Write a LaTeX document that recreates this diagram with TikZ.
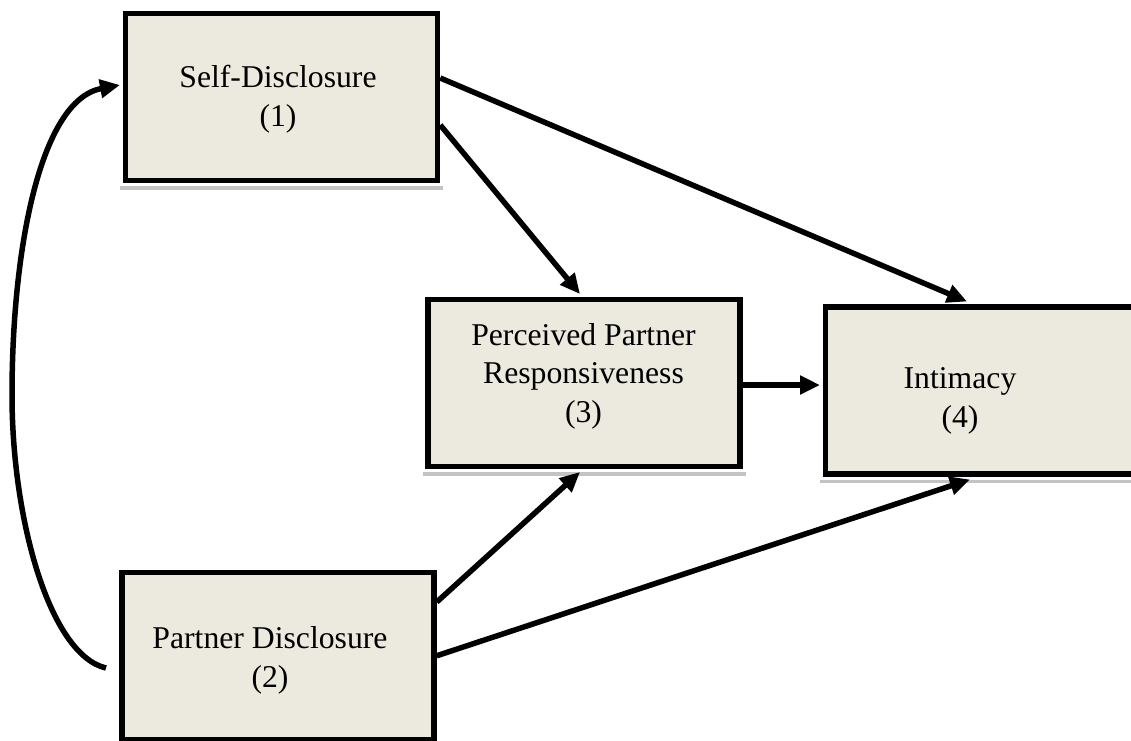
\documentclass[tikz,border=0pt]{standalone}
\usepackage{fontspec}
\setmainfont{Liberation Serif}
\usetikzlibrary{arrows.meta}
\definecolor{boxfill}{RGB}{236,233,223}
\definecolor{boxshade}{RGB}{195,195,195}
\begin{document}
\begin{tikzpicture}[x=1pt,y=-1pt,
  box/.style={draw=black, line width=5.5pt, fill=boxfill, inner sep=0pt,
              minimum width=312pt, minimum height=167pt},
  lbl/.style={align=center, inner sep=0pt,
              font=\fontsize{31.7}{38.5}\selectfont},
  conn/.style={line width=5.5pt, -{Triangle[length=20pt,width=18pt]}},
  shadestrip/.style={fill=boxshade}]
  \fill[white] (0,0) rectangle (1131,740);
  \useasboundingbox (0,0) rectangle (1131,740);

  % boxes
  \node[box] (n1) at (281.5,97) {};
  \node[box] (n3) at (584,383) {};
  \node[box, minimum width=315pt] (n4) at (983,390.5) {};
  \node[box] (n2) at (278,655.75) {};

  % thin shadows under the boxes
  \foreach \b in {n1,n3,n4}{
    \fill[shadestrip] ([xshift=-2.75pt,yshift=-2.75pt]\b.south west)
      rectangle ([xshift=2.75pt,yshift=-6.5pt]\b.south east);
  }

  % labels
  \node[lbl] (t1) at (278,99) {Self-Disclosure\\(1)};
  \node[lbl] (t3) at (583.5,376) {Perceived Partner\\Responsiveness\\(3)};
  \node[lbl] (t4) at (960,401) {Intimacy\\(4)};
  \node[lbl] (t2) at (270,660.5) {Partner Disclosure\\(2)};

  % paths
  \draw[conn] ([yshift=19pt]n1.east) -- ([xshift=-16pt,yshift=2.75pt]n4.north);
  \draw[conn] ([yshift=-28pt]n1.east) -- ([xshift=-4pt,yshift=2.75pt]n3.north);
  \draw[conn] ([yshift=-2pt]n3.east) -- ([xshift=-2.75pt,yshift=-2pt]n4.west |- n3.east);
  \draw[conn] ([yshift=53.75pt]n2.east) -- ([xshift=-4pt,yshift=-2.75pt]n3.south);
  \draw[conn] (n2.east) -- ([xshift=-13pt,yshift=-2.75pt]n4.south);

  % curved path from Partner Disclosure back up to Self-Disclosure
  \coordinate (c0) at (106,668);
  \draw[conn] (c0) .. controls (50,655) and (12,520) .. (12,395)
    .. controls (12,250) and (40,100) .. ([xshift=-2.75pt,yshift=12pt]n1.west);
\end{tikzpicture}
\end{document}
